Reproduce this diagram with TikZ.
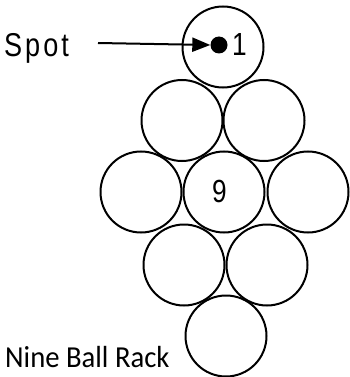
\documentclass[tikz,border=0pt]{standalone}
\usepackage{fontspec}
\setmainfont{Liberation Sans}
\newfontfamily\narrowfont[FakeStretch=0.82]{Liberation Sans}
\newfontfamily\rackfont[FakeStretch=0.94]{Carlito}
\usetikzlibrary{arrows.meta}
\begin{document}
\begin{tikzpicture}[x=1pt,y=-1pt,
  ball/.style={circle,draw,line width=2pt,minimum size=81pt,inner sep=0pt},
  lbl/.style={inner sep=0pt,anchor=base west},
  digit/.style={inner sep=0pt,font=\narrowfont\fontsize{32}{32}\selectfont}]
\useasboundingbox (0,0) rectangle (349,377);
\node[ball] (b1) at (223,47) {};
\node[ball] (b2) at (182,120.5) {};
\node[ball] (b3) at (264,120.5) {};
\node[ball] (b4) at (141,192) {};
\node[ball] (b9) at (224,192) {};
\node[ball] (b5) at (308,192) {};
\node[ball] (b6) at (184,265) {};
\node[ball] (b7) at (267,265) {};
\node[ball] (b8) at (226,336) {};
\node[circle,fill,minimum size=17pt,inner sep=0pt] (dot) at (219,45) {};
\node[digit,lbl] (one) at (232,56) {1};
\node[digit,lbl] (nine) at (212,202) {9};
\node[lbl] (spot) at (4,57) {\narrowfont\fontsize{33}{33}\selectfont S\kern3pt p\kern3pt o\kern3pt t};
\coordinate (tail) at (98,43);
\draw[line width=2pt,-{Triangle[length=18pt,width=14pt]}] (tail) -- (dot.west);
\node[lbl] (rack) at (5,367) {\rackfont\fontsize{30.5}{30.5}\selectfont Nine Ball Rack};
\end{tikzpicture}
\end{document}
